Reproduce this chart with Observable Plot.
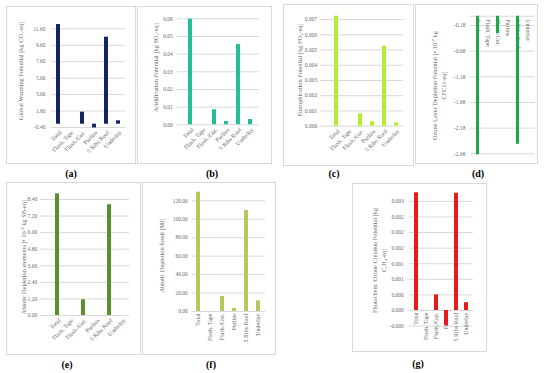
<!DOCTYPE html>
<html><head><meta charset="utf-8">
<script src="https://cdn.jsdelivr.net/npm/d3@7"></script>
<script src="https://cdn.jsdelivr.net/npm/@observablehq/plot@0.6"></script>
<style>
body{margin:0;background:#fff;}
#wrap{position:relative;width:550px;height:373px;overflow:hidden;font-family:"Liberation Serif",serif;}
.box{position:absolute;border:1px solid #d9d9d9;box-sizing:border-box;}
.lab{position:absolute;font-weight:bold;font-size:10px;transform:translate(-50%,-50%);color:#000;white-space:nowrap;}
</style></head><body><div id="wrap"></div>
<script>
// ---- data ----
const categories = ["Total", "Flash. Tape", "Flash./Gut.", "Purlins", "5 Ribs Roof", "Underlay"];
const gwpValues  = [12.12, 0, 1.46, -0.45, 10.58, 0.41];
const apValues   = [0.0598, 0, 0.0085, 0.0019, 0.0455, 0.0030];
const epValues   = [0.00722, 0, 0.00081, 0.00030, 0.00525, 0.00022];
const odpValues  = [-2.70, 0, -0.34, 0, -2.495, 0];
const adeValues  = [8.81, 0, 1.14, 0, 8.02, 0];
const adfValues  = [129.3, 0, 16.3, 3.3, 109.5, 11.6];
const pocpValues = [0.00302, 0, 0.00040, -0.00039, 0.00301, 0.00020];

const gwpTicks  = [-0.4, 1.6, 3.6, 5.6, 7.6, 9.6, 11.6];
const apTicks   = [0, 0.01, 0.02, 0.03, 0.04, 0.05, 0.06];
const epTicks   = [0, 0.001, 0.002, 0.003, 0.004, 0.005, 0.006, 0.007];
const odpTicks  = [-0.18, -0.68, -1.18, -1.68, -2.18, -2.68];
const adeTicks  = [0, 1.2, 2.4, 3.6, 4.8, 6.0, 7.2, 8.4];
const adfTicks  = [0, 20, 40, 60, 80, 100, 120];
const pocpTicks = [-0.0004, 0, 0.0004, 0.0008, 0.0012, 0.0016, 0.002, 0.0024, 0.0028];

const titles = {
  a: "Global Warming Potential [kg CO₂-eq]",
  b: "Acidification Potential [kg SO₂-eq]",
  c: "Eutrophication Potential [kg PO₄-eq]",
  d: "Ozone Layer Depletion Potential [• 10⁻⁷ kg\nCFC11-eq]",
  e: "Abiotic Depletion elements [• 10⁻⁵ kg SB-eq]",
  f: "Abiotic Depletion fossil [MJ]",
  g: "Photochem. Ozone Creation Potential [kg\nC₂H₄-eq]"
};
const panelLetters = ["(a)", "(b)", "(c)", "(d)", "(e)", "(f)", "(g)"];

// ---- layout ----
const panels = [
  {id:"a", values:gwpValues, ticks:gwpTicks, dec:2, color:"#13245e", box:[6,6,136,164], frame:[51,23.8,125,127], domain:[-0.4,12.15], pad:0.68, inset:[0,0], tickPad:6, catY:-0.4, rot:-45, anchor:"end", ldx:2, ldy:4, tdx:-32, tdy:-5, lab:[71,173]},
  {id:"b", values:apValues, ticks:apTicks, dec:2, color:"#22bf98", box:[137,6,272,164], frame:[176.7,18.3,259,124.3], domain:[0,0.06], pad:0.69, inset:[4.6,1.3], tickPad:4.4, catY:0, rot:-45, anchor:"end", ldx:2, ldy:4, tdx:-22, tdy:-4, lab:[212,173]},
  {id:"c", values:epValues, ticks:epTicks, dec:3, color:"#b3ee2e", box:[283,4,414,166], frame:[320,15.7,403.1,125.7], domain:[0,0.00722], pad:0.68, inset:[9.1,0], tickPad:3.3, catY:0, rot:-45, anchor:"end", ldx:2, ldy:4, tdx:-22, tdy:-1, lab:[334,173]},
  {id:"d", values:odpValues, ticks:odpTicks, dec:2, color:"#1ea64e", box:[415,4,538,164], frame:[470,15.76,534.6,154.3], domain:[-2.70,0], pad:0.66, inset:[0,0], tickPad:5, catY:0, rot:90, anchor:"start", ldx:0, ldy:3, tdx:-32, tdy:0, zero:true, lab:[478,173]},
  {id:"e", values:adeValues, ticks:adeTicks, dec:2, color:"#5c8f2b", box:[6,182,141,355], frame:[40,193.3,129.1,315], domain:[0,8.81], pad:0.66, inset:[9.9,0], tickPad:3.3, catY:0, rot:-45, anchor:"end", ldx:2, ldy:4, tdx:-17.5, tdy:2.5, lab:[67,364]},
  {id:"f", values:adfValues, ticks:adfTicks, dec:2, color:"#b7c95d", box:[142,182,276,355], frame:[191.6,191.7,265,311], domain:[0,129.3], pad:0.67, inset:[0,0], tickPad:4.3, catY:0, rot:-90, anchor:"end", ldx:0, ldy:2, tdx:-31.5, tdy:3.6, lab:[211,364]},
  {id:"g", values:pocpValues, ticks:pocpTicks, dec:3, color:"#e81a1a", box:[352,183,487,352], frame:[408.65,192.3,472.85,325.6], domain:[-0.0004,0.00302], pad:0.63, inset:[0,0], tickPad:5.3, catY:0, rot:-90, anchor:"end", ldx:0, ldy:2, tdx:-30.6, tdy:1, lab:[418,363]}
];

const wrap = document.getElementById("wrap");
const txt = "#6b6b6b";

panels.forEach((p, k) => {
  const [bx0, by0, bx1, by1] = p.box;
  const [fl, ft, fr, fb] = p.frame;
  const box = document.createElement("div");
  box.className = "box";
  Object.assign(box.style, {left: bx0 + "px", top: by0 + "px", width: (bx1 - bx0) + "px", height: (by1 - by0) + "px"});
  wrap.appendChild(box);

  const data = categories.map((c, i) => ({cat: c, val: p.values[i]}));
  const svg = Plot.plot({
    width: bx1 - bx0, height: by1 - by0,
    marginLeft: fl - bx0, marginRight: bx1 - fr, marginTop: ft - by0, marginBottom: by1 - fb,
    x: {type: "band", domain: categories, paddingInner: p.pad, paddingOuter: p.pad / 2, insetLeft: p.inset[0], insetRight: p.inset[1], axis: null},
    y: {domain: p.domain},
    style: {fontFamily: '"Liberation Serif", serif', background: "transparent", overflow: "visible", color: txt},
    marks: [
      Plot.gridY(p.ticks, {stroke: "#d9d9d9", strokeOpacity: 1}),
      p.zero ? Plot.ruleY([0], {stroke: "#d9d9d9"}) : null,
      Plot.axisY(p.ticks, {tickSize: 0, tickPadding: p.tickPad, tickFormat: d => d.toFixed(p.dec), fontSize: 5.5, label: null}),
      Plot.text(data, {x: "cat", y: () => p.catY, text: "cat", rotate: p.rot, textAnchor: p.anchor, dx: p.ldx, dy: p.ldy, fontSize: 6, fill: txt}),
      Plot.barY(data, {x: "cat", y: "val", fill: p.color}),
      Plot.text([titles[p.id]], {frameAnchor: "left", textAnchor: "middle", lineAnchor: "middle", rotate: -90, dx: p.tdx, dy: p.tdy, fontSize: 6.3, fill: txt, lineHeight: 1.5})
    ]
  });
  svg.style.position = "absolute";
  svg.style.left = bx0 + "px";
  svg.style.top = by0 + "px";
  wrap.appendChild(svg);

  const lab = document.createElement("div");
  lab.className = "lab";
  lab.textContent = panelLetters[k];
  lab.style.left = p.lab[0] + "px";
  lab.style.top = p.lab[1] + "px";
  wrap.appendChild(lab);
});
</script></body></html>
